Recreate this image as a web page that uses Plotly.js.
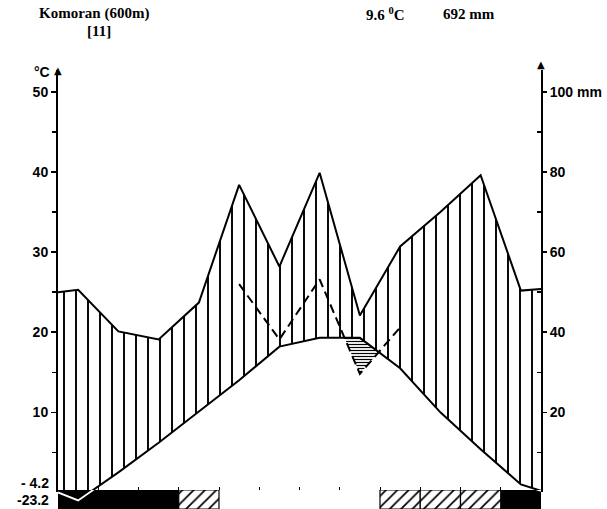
<!DOCTYPE html>
<html>
<head>
<meta charset="utf-8">
<script src="https://cdn.plot.ly/plotly-3.0.1.min.js"></script>
<style>html,body{margin:0;padding:0;background:#fff;}#chart{width:607px;height:509px;}</style>
</head>
<body>
<div id="chart"></div>
<script>
// ---- data ----
const months = ['Jan','Feb','Mar','Apr','May','Jun','Jul','Aug','Sep','Oct','Nov','Dec'];
const tempC = [-1.0, 2.5, 6.2, 10.1, 14.0, 18.2, 19.3, 19.3, 15.5, 10.0, 5.4, 1.0];
const tempEdgesC = [0.0, 0.2];            // value drawn at left / right border
const precipMm = [50.6, 40.2, 38.2, 47.4, 76.8, 56.4, 79.8, 44.2, 61.4, 70.0, 79.2, 50.4];
const precipEdgesMm = [50.0, 50.8];       // value drawn at left / right border
const dashMonths = ['May','Jun','Jul','Aug','Sep'];
const dashCurveC = [26.0, 19.1, 26.6, 14.8, 20.6];
const frostClass = [2, 2, 2, 1, 0, 0, 0, 0, 1, 1, 1, 2]; // 2 black, 1 hatched, 0 free
const tempTicks = [10, 20, 30, 40, 50];
const tempTickText = ['10', '20', '30', '40', '50'];
const tempMinorTicks = [5, 15, 25, 35, 45];
const mmTicks = [20, 40, 60, 80, 100];
const mmTickText = ['20', '40', '60', '80', '100 mm'];
const mmMinorTicks = [10, 30, 50, 70, 90];
const stationText = 'Komoran (600m)';
const refText = '[11]';
const meanTempText = '9.6 <sup>0</sup>C';
const sumPrecText = '692 mm';
const minLabels = ['- 4.2', '-23.2'];

// ---- scales ----
const MM_PER_C = 2;
const yMain = [0.3, 52.74];
const yStrip = [-2.07, 0.3];
const stripFrac = 19 / 439;

const mx = months.map((m, i) => i + 0.5);
const lineX = [0].concat(mx, [12]);
const tempLine = [tempEdgesC[0]].concat(tempC, [tempEdgesC[1]]);
const precLine = [precipEdgesMm[0]].concat(precipMm, [precipEdgesMm[1]]).map(v => v / MM_PER_C);
const dashX = dashMonths.map(m => months.indexOf(m) + 0.5);

// dry area: where dashed curve is below temperature
const dx = [], dUp = [], dLo = [];
for (let k = 0; k < dashX.length; k++) {
  const i = months.indexOf(dashMonths[k]);
  const t = tempC[i], d = dashCurveC[k];
  if (k > 0) {
    const ip = months.indexOf(dashMonths[k - 1]);
    const tp = tempC[ip], dp = dashCurveC[k - 1];
    const fp = tp - dp, f = t - d;
    if (fp * f < 0) {
      const r = fp / (fp - f);
      const xc = dashX[k - 1] + r * (dashX[k] - dashX[k - 1]);
      const yc = tp + r * (t - tp);
      dx.push(xc); dUp.push(yc); dLo.push(yc);
    }
  }
  dx.push(dashX[k]); dUp.push(t); dLo.push(Math.min(t, d));
}

const fnt = {family: 'Liberation Sans, Arial, sans-serif', size: 14, color: '#000', weight: 'bold'};
const serif = {family: 'Liberation Serif, Times New Roman, serif', size: 15, color: '#000', weight: 'bold'};

function frostBar(cls, color, lineW, pattern) {
  const xs = [], ys = [];
  frostClass.forEach((c, i) => { if (c === cls) { xs.push(mx[i]); ys.push(yStrip[1] - yStrip[0]); } });
  const tr = {x: xs, y: ys, base: yStrip[0], type: 'bar', width: 1, xaxis: 'x', yaxis: 'y3',
              marker: {color: color, line: {color: '#000', width: lineW}}, hoverinfo: 'skip'};
  if (pattern) tr.marker.pattern = pattern;
  return tr;
}

const traces = [
  {x: lineX, y: tempLine, type: 'scatter', mode: 'lines', xaxis: 'x', yaxis: 'y',
   line: {color: '#000', width: 2}, hoverinfo: 'skip'},
  {x: lineX, y: precLine, type: 'scatter', mode: 'lines', xaxis: 'x', yaxis: 'y',
   line: {color: '#000', width: 2}, fill: 'tonexty', fillcolor: 'rgba(255,255,255,0)',
   fillpattern: {shape: '|', size: 12, solidity: 0.16, fgcolor: '#000', bgcolor: 'rgba(255,255,255,0)'},
   hoverinfo: 'skip'},
  {x: dx, y: dUp, type: 'scatter', mode: 'lines', xaxis: 'x', yaxis: 'y',
   line: {width: 0, color: 'rgba(0,0,0,0)'}, hoverinfo: 'skip'},
  {x: dx, y: dLo, type: 'scatter', mode: 'lines', xaxis: 'x', yaxis: 'y',
   line: {width: 0, color: 'rgba(0,0,0,0)'}, fill: 'tonexty', fillcolor: 'rgba(255,255,255,0)',
   fillpattern: {shape: '-', size: 3, solidity: 0.4, fgcolor: '#000', bgcolor: 'rgba(255,255,255,0)'},
   hoverinfo: 'skip'},
  {x: dashX, y: dashCurveC, type: 'scatter', mode: 'lines', xaxis: 'x', yaxis: 'y',
   line: {color: '#000', width: 2, dash: '9px,5px'}, hoverinfo: 'skip'},
  {x: mmTicks, y: mmTicks, type: 'scatter', mode: 'none', xaxis: 'x', yaxis: 'y2', hoverinfo: 'skip'},
  frostBar(0, '#fff', 0, null),
  frostBar(2, '#000', 1, null),
  frostBar(1, '#fff', 1.2, {shape: '/', size: 8, solidity: 0.22, fgcolor: '#000', bgcolor: '#fff'}),
  {x: lineX, y: tempLine, type: 'scatter', mode: 'lines', xaxis: 'x', yaxis: 'y3',
   line: {color: '#fff', width: 1.8}, hoverinfo: 'skip'}
];

function px2paperX(p) { return (p - 58) / 483; }
function px2paperY(p) { return (509 - p) / 439; }

const layout = {
  width: 607, height: 509,
  margin: {l: 58, r: 66, t: 70, b: 0, pad: 0},
  paper_bgcolor: '#fff', plot_bgcolor: 'rgba(0,0,0,0)',
  showlegend: false, bargap: 0, barmode: 'overlay',
  font: fnt,
  xaxis: {range: [0, 12], showgrid: false, zeroline: false, showline: true, linecolor: '#000',
          linewidth: 1.5, tickvals: [1,2,3,4,5,6,7,8,9,10,11], showticklabels: false,
          ticks: 'inside', ticklen: 3, tickcolor: '#000', anchor: 'y', fixedrange: true},
  yaxis: {domain: [stripFrac, 1], range: yMain, showgrid: false, zeroline: false, showline: true,
          linecolor: '#000', linewidth: 2, tickvals: tempTicks, ticktext: tempTickText,
          ticks: 'outside', ticklen: 5, tickwidth: 1.5, tickcolor: '#000', tickfont: fnt,
          anchor: 'x', side: 'left',
          minor: {tickmode: 'array', tickvals: tempMinorTicks, ticks: 'outside', ticklen: 4, tickcolor: '#000', tickwidth: 1.5}},
  yaxis2: {overlaying: 'y', side: 'right', anchor: 'x', range: yMain.map(v => v * MM_PER_C),
           showgrid: false, zeroline: false, showline: true, linecolor: '#000', linewidth: 2,
           tickvals: mmTicks, ticktext: mmTickText, ticks: 'outside', ticklen: 4, tickwidth: 1.5,
           tickcolor: '#000', tickfont: fnt,
           minor: {tickmode: 'array', tickvals: mmMinorTicks, ticks: 'inside', ticklen: 4, tickcolor: '#000', tickwidth: 1.5}},
  yaxis3: {domain: [0, stripFrac], range: yStrip, visible: false, anchor: 'x'},
  annotations: [
    {xref: 'paper', yref: 'paper', x: 0, y: 1.0, text: '▲', showarrow: false,
     font: {family: 'DejaVu Sans', size: 10, color: '#000'}, xanchor: 'center', yanchor: 'middle'},
    {xref: 'paper', yref: 'paper', x: 1, y: 1.012, text: '▲', showarrow: false,
     font: {family: 'DejaVu Sans', size: 10, color: '#000'}, xanchor: 'center', yanchor: 'middle'},
    {xref: 'paper', yref: 'paper', x: px2paperX(42), y: px2paperY(72), text: '°C', showarrow: false,
     font: fnt, xanchor: 'center', yanchor: 'middle'},
    {xref: 'paper', yref: 'paper', x: px2paperX(51), y: px2paperY(483), text: minLabels[0], showarrow: false,
     font: fnt, xanchor: 'right', yanchor: 'middle'},
    {xref: 'paper', yref: 'paper', x: px2paperX(51), y: px2paperY(500), text: minLabels[1], showarrow: false,
     font: fnt, xanchor: 'right', yanchor: 'middle'},
    {xref: 'paper', yref: 'paper', x: px2paperX(94), y: px2paperY(14), text: stationText, showarrow: false,
     font: serif, xanchor: 'center', yanchor: 'middle'},
    {xref: 'paper', yref: 'paper', x: px2paperX(99), y: px2paperY(31), text: refText, showarrow: false,
     font: serif, xanchor: 'center', yanchor: 'middle'},
    {xref: 'paper', yref: 'paper', x: px2paperX(385), y: px2paperY(14), text: meanTempText, showarrow: false,
     font: serif, xanchor: 'center', yanchor: 'middle'},
    {xref: 'paper', yref: 'paper', x: px2paperX(469), y: px2paperY(14), text: sumPrecText, showarrow: false,
     font: serif, xanchor: 'center', yanchor: 'middle'}
  ]
};

Plotly.newPlot('chart', traces, layout, {staticPlot: true, displayModeBar: false});
</script>
</body>
</html>
